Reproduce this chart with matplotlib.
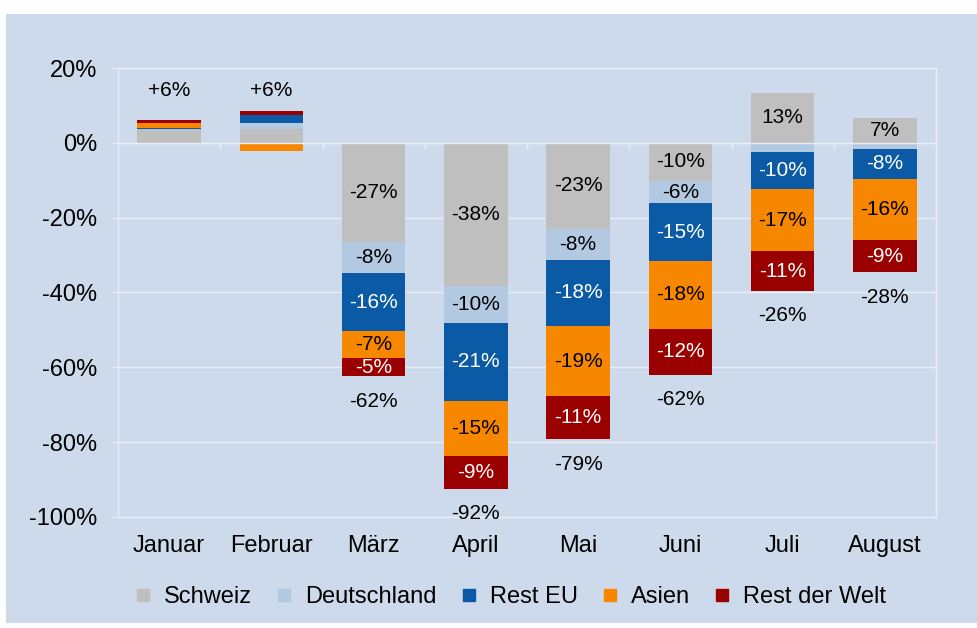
import numpy as np
import matplotlib.pyplot as plt
from matplotlib.lines import Line2D
from matplotlib.patches import Rectangle
from matplotlib.ticker import FuncFormatter, MultipleLocator

plt.rcParams['font.family'] = ['Liberation Sans', 'DejaVu Sans']

# --- Daten (Veränderung ggü. Vorjahr in %) ---
months = ['Januar', 'Februar', 'März', 'April', 'Mai', 'Juni', 'Juli', 'August']
series_names = ['Schweiz', 'Deutschland', 'Rest EU', 'Asien', 'Rest der Welt']
schweiz = [3.6, 3.7, -26.6, -38.2, -23.0, -10.2, 13.4, 6.6]
deutschland = [0.0, 1.7, -8.2, -9.9, -8.2, -6.0, -2.4, -1.6]
rest_eu = [0.4, 2.0, -15.6, -20.8, -17.8, -15.3, -10.0, -8.0]
asien = [1.2, -2.3, -7.1, -14.9, -18.8, -18.2, -16.6, -16.4]
rest_welt = [0.9, 1.1, -4.9, -8.6, -11.4, -12.3, -10.6, -8.6]

colors = ['#BFBFBF', '#B3C9E2', '#0A5AA5', '#F88700', '#9B0000']
label_colors = ['black', 'black', 'white', 'black', 'white']
bg = '#CDDAEB'
line_col = '#E9EEF6'

data = np.array([schweiz, deutschland, rest_eu, asien, rest_welt])
x = np.arange(len(months))

fig = plt.figure(figsize=(9.78, 6.28), dpi=100)
fig.patch.set_facecolor('white')
# blaues Hintergrundfeld
panel = Rectangle((6 / 978, 5 / 628), 972 / 978, 609 / 628,
                  transform=fig.transFigure, facecolor=bg,
                  edgecolor='none', zorder=-10)
fig.add_artist(panel)

ax = fig.add_axes([0.1207, 0.1768, 0.8364, 0.7149])
ax.set_facecolor(bg)
ax.set_zorder(1)

pos_bottom = np.zeros(len(months))
neg_bottom = np.zeros(len(months))
for i, vals in enumerate(data):
    bottoms = np.where(vals >= 0, pos_bottom, neg_bottom)
    ax.bar(x, vals, bottom=bottoms, width=0.62, color=colors[i],
           label=series_names[i], zorder=2)
    for j, v in enumerate(vals):
        if abs(v) >= 4:
            ax.text(x[j], bottoms[j] + v / 2, f'{v:.0f}%', ha='center',
                    va='center', fontsize=15, color=label_colors[i], zorder=4)
    pos_bottom += np.where(vals >= 0, vals, 0)
    neg_bottom += np.where(vals < 0, vals, 0)

# Summenbeschriftung
net = data.sum(axis=0)
for j, n in enumerate(net):
    if n >= 0:
        ax.annotate(f'+{n:.0f}%', (x[j], n), xytext=(0, 21),
                    textcoords='offset points', ha='center', va='center',
                    fontsize=15)
    else:
        ax.annotate(f'{n:.0f}%', (x[j], neg_bottom[j]), xytext=(0, -18),
                    textcoords='offset points', ha='center', va='center',
                    fontsize=15)

ax.set_xlim(-0.5, len(months) - 0.5)
ax.set_ylim(-100, 20)
ax.yaxis.set_major_locator(MultipleLocator(20))
ax.yaxis.set_major_formatter(FuncFormatter(lambda v, p: f'{v:.0f}%'))
ax.grid(axis='y', color=line_col, linewidth=1, zorder=1)
ax.set_axisbelow(True)
ax.axhline(0, color=line_col, linewidth=1, zorder=3)
# Kategorie-Trennstriche an der Nulllinie
ax.vlines(x[:-1] + 0.5, -1.6, 0, color=line_col, linewidth=1, zorder=3)

ax.set_xticks(x)
ax.set_xticklabels(months)
ax.tick_params(axis='x', length=0, pad=13, labelsize=17)
ax.tick_params(axis='y', length=5, color=line_col, pad=10, labelsize=17)
for s in ax.spines.values():
    s.set_color(line_col)
    s.set_linewidth(1)

handles = [Line2D([], [], marker='s', linestyle='none', markersize=8,
                  markerfacecolor=c, markeredgecolor=c) for c in colors]
fig.legend(handles, series_names, loc='center', bbox_to_anchor=(510 / 978, 0.049),
           ncol=5, frameon=False, fontsize=17, handlelength=0.8,
           handletextpad=0.5, columnspacing=0.95)

fig.savefig('out.png', dpi=100, facecolor=fig.get_facecolor())
